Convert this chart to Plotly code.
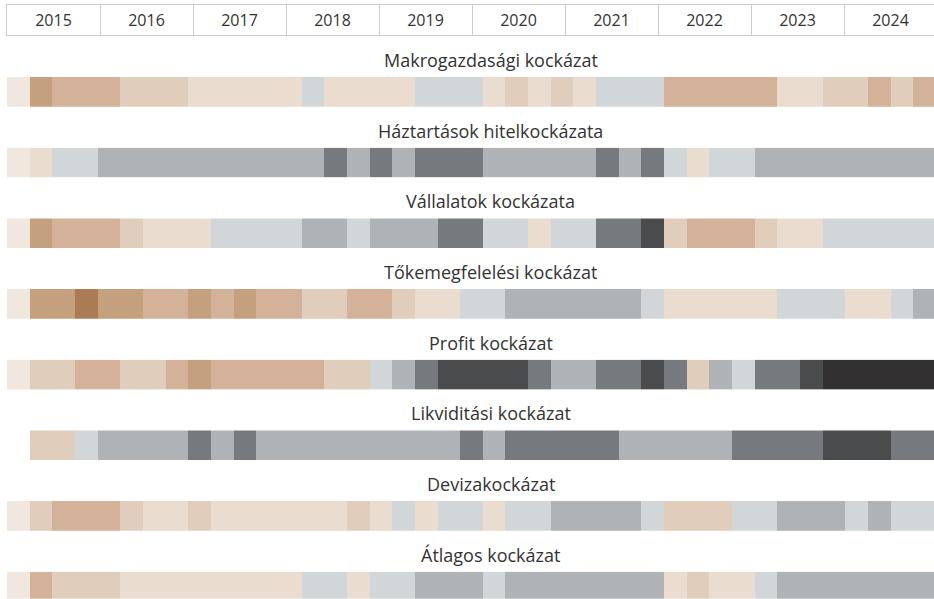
import plotly.graph_objects as go

# ---------------- data ----------------
years = [2015, 2016, 2017, 2018, 2019, 2020, 2021, 2022, 2023, 2024]
year_labels = [str(y) for y in years]
quarters = [f"{y} Q{q}" for y in range(2015, 2026) for q in range(1, 5)][:41]

risk_names = [
    "Makrogazdasági kockázat",
    "Háztartások hitelkockázata",
    "Vállalatok kockázata",
    "Tőkemegfelelési kockázat",
    "Profit kockázat",
    "Likviditási kockázat",
    "Devizakockázat",
    "Átlagos kockázat",
]

# risk level: -5 (lowest, dark brown) ... 0 ... 5 (highest, dark grey)
makro = [0, -4, -3, -3, -3, -2, -2, -2, -1, -1, -1, -1, -1, 1, -1, -1, -1, -1, 1, 1,
         1, -1, -2, -1, -2, -1, 1, 1, 1, -3, -3, -3, -3, -3, -1, -1, -2, -2, -3, -2, -3]
haztartas = [0, -1, 1, 1, 2, 2, 2, 2, 2, 2, 2, 2, 2, 2, 3, 2, 3, 2, 3, 3,
             3, 2, 2, 2, 2, 2, 3, 2, 3, 1, -1, 1, 1, 2, 2, 2, 2, 2, 2, 2, 2]
vallalat = [0, -4, -3, -3, -3, -2, -1, -1, -1, 1, 1, 1, 1, 2, 2, 1, 2, 2, 2, 3,
            3, 1, 1, -1, 1, 1, 3, 3, 4, -2, -3, -3, -3, -2, -1, -1, 1, 1, 1, 1, 1]
toke = [0, -4, -4, -5, -4, -4, -3, -3, -4, -3, -4, -3, -3, -2, -2, -3, -3, -2, -1, -1,
        1, 1, 2, 2, 2, 2, 2, 2, 1, -1, -1, -1, -1, -1, 1, 1, 1, -1, -1, 1, 2]
profit = [0, -2, -2, -3, -3, -2, -2, -3, -4, -3, -3, -3, -3, -3, -2, -2, 1, 2, 3, 4,
          4, 4, 4, 3, 2, 2, 3, 3, 4, 3, -2, 2, 1, 3, 3, 4, 5, 5, 5, 5, 5]
likvid = [None, -2, -2, 1, 2, 2, 2, 2, 3, 2, 3, 2, 2, 2, 2, 2, 2, 2, 2, 2,
          3, 2, 3, 3, 3, 3, 3, 2, 2, 2, 2, 2, 3, 3, 3, 3, 4, 4, 4, 3, 3]
deviza = [0, -2, -3, -3, -3, -2, -1, -1, -2, -1, -1, -1, -1, -1, -1, -2, -1, 1, -1, 1,
          1, -1, 1, 1, 2, 2, 2, 2, 1, -2, -2, -2, 1, 1, 2, 2, 2, 1, 2, 1, 1]
atlag = [0, -3, -2, -2, -2, -1, -1, -1, -1, -1, -1, -1, -1, 1, 1, -1, 1, 1, 2, 2,
         2, 1, 2, 2, 2, 2, 2, 2, 2, -1, -2, -1, -1, 1, 2, 2, 2, 2, 2, 2, 2]

series = [makro, haztartas, vallalat, toke, profit, likvid, deviza, atlag]

level_colors = ["#A97C55", "#C4A07F", "#D3B299", "#E1CDBB", "#EADDD0", "#F0E7DE",
                "#D1D6D8", "#AFB3B6", "#767A7E", "#4A4B4D", "#323031"]

# ---------------- layout constants ----------------
W, H = 934, 599
LEFT = 7
plot_w = W - LEFT
cell_w = 22.67
year_w = 93.0

n = len(level_colors)
colorscale = []
for i, c in enumerate(level_colors):
    colorscale.append([i / n, c])
    colorscale.append([(i + 1) / n, c])


def py(px):
    return 1 - px / H


fig = go.Figure()

# header
hdr_top, hdr_bot = 5, 35
fig.add_trace(go.Scatter(
    x=[y + 0.5 for y in years], y=[0.43] * len(years), text=year_labels,
    mode="text", textfont=dict(family="Open Sans", size=16, color="#333333"),
    hoverinfo="skip", xaxis="x", yaxis="y", showlegend=False,
))
layout = dict(
    width=W, height=H,
    margin=dict(l=LEFT, r=0, t=0, b=0),
    paper_bgcolor="white", plot_bgcolor="white",
    showlegend=False,
    xaxis=dict(range=[years[0], years[0] + plot_w / year_w], domain=[0, 1],
               tickvals=years, showticklabels=False, ticks="",
               showgrid=True, gridcolor="#C9CED1", gridwidth=1,
               showline=True, linecolor="#C9CED1", linewidth=1, mirror=True,
               zeroline=False, fixedrange=True),
    yaxis=dict(range=[0, 1], domain=[py(hdr_bot), py(hdr_top)],
               showticklabels=False, showgrid=False, zeroline=False,
               showline=True, linecolor="#C9CED1", linewidth=1, fixedrange=True),
)

annotations = []
top0, step, strip_h = 77.0, 70.67, 29.7
for i, (name, vals) in enumerate(zip(risk_names, series)):
    k = i + 2
    top = top0 + step * i
    bot = min(top + strip_h, H)
    fig.add_trace(go.Heatmap(
        z=[vals], x=list(range(len(quarters))), y=[0],
        customdata=[quarters], hovertemplate="%{customdata}: %{z}<extra></extra>",
        colorscale=colorscale, zmin=-5.5, zmax=5.5, showscale=False,
        xaxis=f"x{k}", yaxis=f"y{k}",
    ))
    layout[f"xaxis{k}"] = dict(range=[-0.5, -0.5 + plot_w / cell_w], domain=[0, 1],
                               visible=False, fixedrange=True)
    layout[f"yaxis{k}"] = dict(range=[-0.5, 0.5], domain=[py(bot), py(top)],
                               visible=False, fixedrange=True)
    annotations.append(dict(
        text=name, xref="paper", yref="paper",
        x=(490.7 - LEFT) / plot_w, y=py(top - 17),
        xanchor="center", yanchor="middle", showarrow=False,
        font=dict(family="Open Sans", size=18, color="#333333"),
    ))

layout["annotations"] = annotations
fig.update_layout(**layout)
fig.write_html(
    "out.html",
    config={"displayModeBar": False},
    post_script="document.body.style.margin='0';document.body.style.overflow='hidden';",
)
